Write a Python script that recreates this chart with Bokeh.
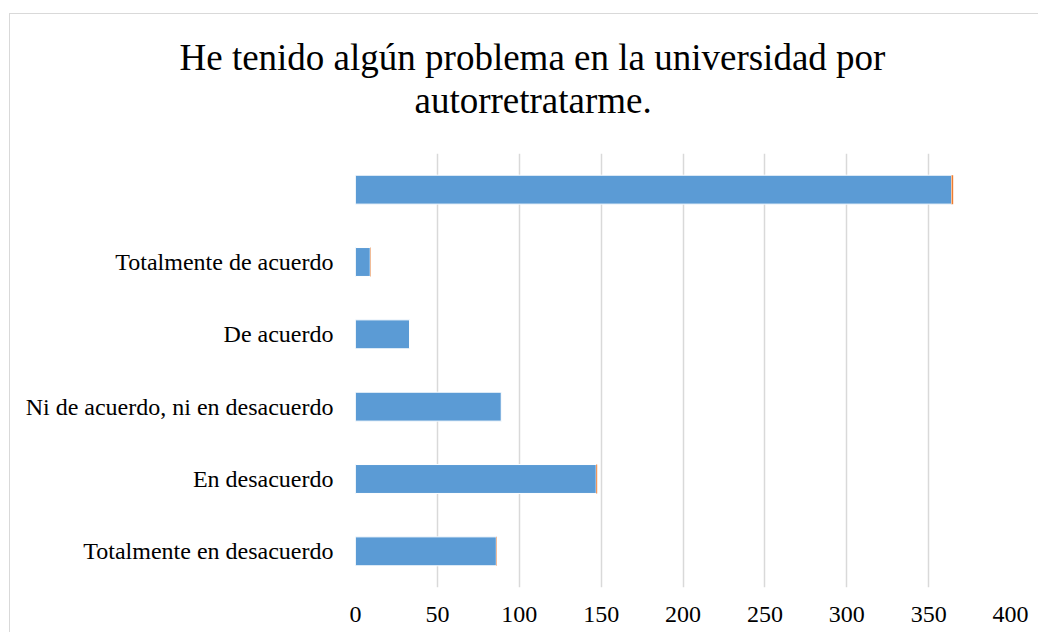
from bokeh.plotting import figure
from bokeh.models import ColumnDataSource, FactorRange, Range1d, FixedTicker, Title
from bokeh.embed import file_html
from bokeh.resources import INLINE

# ---- data (bottom to top) ----
categories = ["Totalmente en desacuerdo", "En desacuerdo",
              "Ni de acuerdo, ni en desacuerdo", "De acuerdo",
              "Totalmente de acuerdo", " "]
counts = [86, 147, 89, 33, 9, 364]
second_series = [0.3, 0.6, 0, 0, 0.3, 1]
tick_values = [0, 50, 100, 150, 200, 250, 300, 350, 400]
title_lines = ["He tenido algún problema en la universidad por", "autorretratarme."]

FONT = "Liberation Serif"
GRID = "#d9d9d9"

src = ColumnDataSource(dict(cat=categories, count=counts,
                            end=[c + s for c, s in zip(counts, second_series)]))

p = figure(width=1038, height=632, y_range=FactorRange(*categories),
           x_range=Range1d(0, 400), output_backend="svg", toolbar_location=None,
           min_border_left=355, min_border_right=28, min_border_top=153,
           min_border_bottom=45,
           styles={
               "background-image": "linear-gradient(#d9d9d9,#d9d9d9), linear-gradient(#d9d9d9,#d9d9d9)",
               "background-size": "1px 100%, 100% 1px",
               "background-position": "9px 13px, 9px 13px",
               "background-repeat": "no-repeat",
           })
p.border_fill_alpha = 0
p.background_fill_alpha = 0
p.outline_line_color = None

p.hbar(y="cat", left=0, right="count", height=0.4, source=src,
       fill_color="#5B9BD5", line_color="white", line_width=1)
p.hbar(y="cat", left="count", right="end", height=0.4, source=src,
       fill_color="#ED7D31", line_color=None)

p.xaxis.ticker = FixedTicker(ticks=tick_values)
for ax in (p.xaxis, p.yaxis):
    ax.axis_line_color = None
    ax.major_tick_line_color = None
    ax.minor_tick_line_color = None
    ax.major_tick_out = 0
    ax.major_tick_in = 0
    ax.major_label_text_font = FONT
    ax.major_label_text_font_size = "24px"
    ax.major_label_text_color = "#000000"
p.xaxis.major_label_standoff = 19
p.yaxis.major_label_standoff = 22

p.ygrid.grid_line_color = None
p.xgrid.grid_line_color = GRID
p.xgrid.grid_line_width = 1.5

# title: spacer, then the two lines (panels stack outward from the plot area)
p.add_layout(Title(text=" ", text_font_size="1px", standoff=30), "above")
for text, off in zip(reversed(title_lines), [59, -176]):
    p.add_layout(Title(text=text, align="left", offset=off,
                       text_font=FONT, text_font_size="37px", text_font_style="normal",
                       text_line_height=1.13, text_color="#000000", standoff=0),
                 "above")

open("out.html", "w").write(file_html(p, INLINE))
